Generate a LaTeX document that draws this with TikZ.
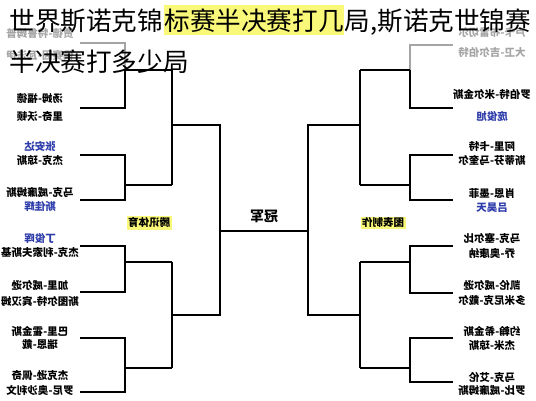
\documentclass[tikz,border=0pt]{standalone}
\usepackage{fontspec}
\newfontfamily\cjk{Noto Sans CJK SC}
\usetikzlibrary{positioning}
\definecolor{nameblue}{RGB}{45,60,170}
\definecolor{hlyellow}{RGB}{250,248,120}
\definecolor{lost}{RGB}{165,165,165}

\begin{document}
\begin{tikzpicture}[x=1pt,y=-1pt,line width=1.2pt,
  title/.style={font=\cjk\fontsize{25.6}{26}\selectfont,inner sep=0pt},
  player/.style={font=\cjk\bfseries\fontsize{10.5}{11}\selectfont,inner sep=0pt,xscale=-1,transform shape},
  gone/.style={player,text=lost},
  cn/.style={player,text=nameblue},
  tag/.style={font=\cjk\bfseries\fontsize{10.5}{11}\selectfont,fill=hlyellow,inner sep=1.5pt,xscale=-1,transform shape},
  champ/.style={font=\cjk\bfseries\fontsize{14}{14}\selectfont,inner sep=0pt,xscale=-1,transform shape}]
\fill[white] (0,0) rectangle (536,400);
\useasboundingbox (0,0) rectangle (536,400);

% first round slots
\foreach \i/\y in {1/43,2/108,3/155,4/200,5/246,6/292,7/338,8/392} \coordinate (L\i) at (125,\y);
\foreach \i/\y in {1/45,2/108,3/155,4/200,5/246,6/293,7/338,8/382} \coordinate (R\i) at (410,\y);
% second round and semis
\foreach \i/\y in {1/70,2/185,3/262,4/368} {\coordinate (LQ\i) at (172,\y); \coordinate (RQ\i) at (360,\y);}
\coordinate (LS1) at (220,125); \coordinate (LS2) at (220,315);
\coordinate (RS1) at (308,125); \coordinate (RS2) at (308,315);
\coordinate (F1) at (220,231); \coordinate (F2) at (308,231);

\draw[lost] ([xshift=-45pt]L1) -- (L1) -- (L1 |- LQ1);
\draw[lost] ([xshift=43pt]R1) -- (R1) -- (R1 |- RQ1);
\draw (L1 |- LQ1) -- (L2) -- ([xshift=-45pt]L2);
\draw (R1 |- RQ1) -- (R2) -- ([xshift=43pt]R2);
\foreach \a/\b in {3/4,5/6,7/8} {
  \draw ([xshift=-45pt]L\a) -- (L\a) -- (L\b) -- ([xshift=-45pt]L\b);
  \draw ([xshift=43pt]R\a) -- (R\a) -- (R\b) -- ([xshift=43pt]R\b);
}
\foreach \i in {1,...,4} {
  \draw (LQ\i -| L1) -- (LQ\i);
  \draw (RQ\i -| R1) -- (RQ\i);
}
\draw (LQ1) -- (LQ2) (LQ3) -- (LQ4) (RQ1) -- (RQ2) (RQ3) -- (RQ4);
\draw (LS1 -| LQ1) -- (LS1) -- (LS2) -- (LS2 -| LQ1);
\draw (RS1 -| RQ1) -- (RS1) -- (RS2) -- (RS2 -| RQ1);
\draw (F1) -- (F2);

% players
\foreach \y/\s/\t [count=\i] in {33/gone/贾德-特鲁姆普,55/gone/侯赛因-瓦法伊,98/player/汤姆-福德,117/player/里奇-沃顿,
  147/cn/张安达,161/player/杰克-琼斯,193/player/马克-威廉姆斯,207/cn/斯佳辉,238/cn/丁俊晖,253/player/杰克-利索夫斯基,
  285/player/加里-威尔逊,302/player/斯图尔特-宾汉姆,332/player/巴里-霍金斯,345/player/瑞恩-戴,376/player/杰克逊-佩奇,390/player/罗尼-奥沙利文}
  \node[\s] (lp\i) at (40,\y) {\t};
\foreach \y/\s/\t [count=\i] in {33/gone/卢卡-布雷切尔,53/gone/大卫-吉尔伯特,95/player/罗伯特-米尔金斯,117/cn/庞俊旭,
  147/player/阿里-卡特,161/player/斯蒂芬-马奎尔,193/player/肖恩-墨菲,208/cn/吕昊天,238/player/马克-塞尔比,253/player/乔-奥康纳,
  285/player/凯伦-威尔逊,300/player/多米尼克-戴尔,332/player/约翰-希金斯,346/player/杰米-琼斯,377/player/马克-艾伦,391/player/罗比-威廉姆斯}
  \node[\s] (rp\i) at (492,\y) {\t};

\node[tag] (txty) at (149,223) {腾讯体育};
\node[tag] (tbzz) at (383,223) {图表制作};
\node[champ] (gj) at (264,216) {冠军};

% title
\node[title,anchor=base west] (t1) at (9,30) {世界斯诺克锦};
\node[title,fill=hlyellow,inner ysep=3pt,base right=0pt of t1] (t2) {标赛半决赛打几};
\node[title,base right=0pt of t2] (t3) {局,斯诺克世锦赛};
\node[title,anchor=base west] (t4) at (9,71) {半决赛打多少局};
\end{tikzpicture}
\end{document}
